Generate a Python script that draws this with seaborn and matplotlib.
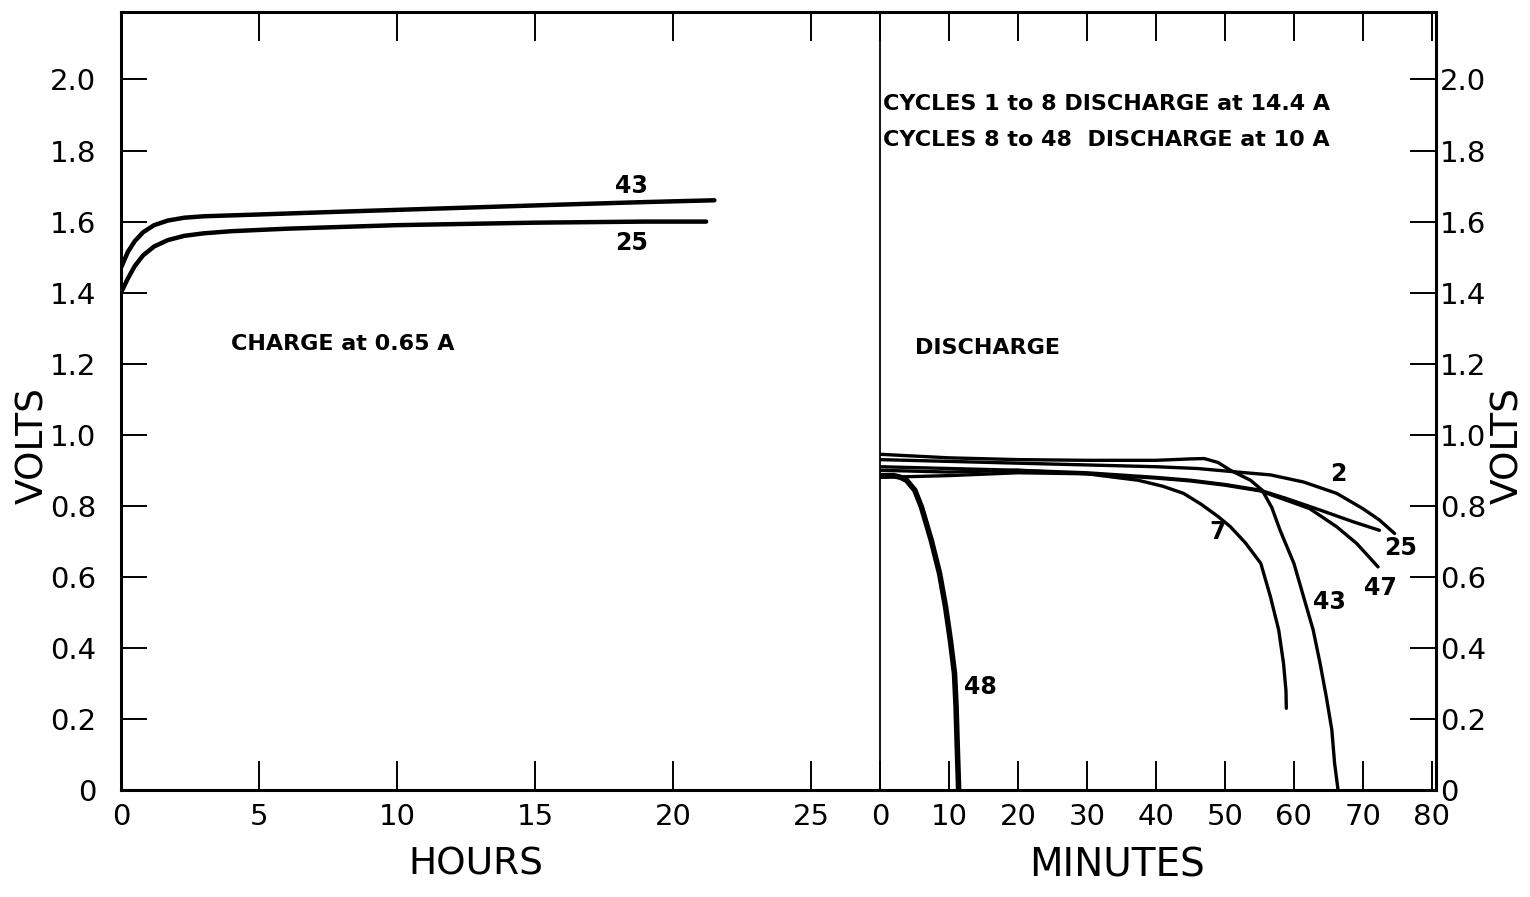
import matplotlib
matplotlib.use("Agg")
import matplotlib.pyplot as plt
import seaborn as sns

# --- charge curves (hours, volts) ---
charge_43_hours = [0, 0.25, 0.5, 0.8, 1.2, 1.7, 2.3, 3, 5, 8, 12, 16, 19, 21.5]
charge_43_volts = [1.47, 1.515, 1.545, 1.57, 1.59, 1.603, 1.611, 1.615, 1.62, 1.628, 1.638, 1.648, 1.655, 1.66]
charge_25_hours = [0, 0.25, 0.5, 0.8, 1.2, 1.7, 2.3, 3, 4, 6, 10, 15, 19, 21.2]
charge_25_volts = [1.40, 1.44, 1.475, 1.505, 1.53, 1.548, 1.56, 1.567, 1.573, 1.58, 1.59, 1.597, 1.60, 1.60]

# --- discharge curves (minutes, volts) ---
dis_2_min = [0, 10, 20, 30, 40, 46, 51.8, 56.6, 61.4, 66.2, 70.0, 72.4, 74.6]
dis_2_volts = [0.93, 0.925, 0.92, 0.915, 0.91, 0.905, 0.895, 0.887, 0.867, 0.835, 0.792, 0.76, 0.722]
dis_7_min = [0, 10, 20, 30, 37.4, 41, 44, 46.5, 49, 50.8, 53.0, 55.2, 56.6, 57.8, 58.5, 58.85, 58.9]
dis_7_volts = [0.91, 0.905, 0.90, 0.89, 0.872, 0.855, 0.835, 0.805, 0.77, 0.741, 0.695, 0.638, 0.544, 0.45, 0.356, 0.28, 0.23]
dis_25_min = [0, 10, 20, 30, 40, 45, 50, 55.1, 59.0, 63.8, 68.6, 72.4]
dis_25_volts = [0.90, 0.895, 0.90, 0.893, 0.88, 0.872, 0.86, 0.844, 0.82, 0.788, 0.755, 0.731]
dis_43_min = [0, 10, 20, 30, 40, 45, 47, 49, 50.8, 53.7, 55.4, 56.8, 58.0, 60.0, 61.4, 62.8, 63.8, 64.7, 65.5, 65.9, 66.4]
dis_43_volts = [0.945, 0.935, 0.93, 0.928, 0.928, 0.932, 0.933, 0.922, 0.90, 0.872, 0.844, 0.795, 0.731, 0.638, 0.544, 0.45, 0.356, 0.262, 0.169, 0.075, 0.0]
dis_47_min = [0, 10, 20, 30, 40, 45, 50, 55.1, 59.0, 62.3, 66.2, 69.1, 72.2]
dis_47_volts = [0.88, 0.885, 0.893, 0.89, 0.878, 0.87, 0.858, 0.842, 0.815, 0.792, 0.741, 0.694, 0.628]
dis_48_min = [0, 2, 3, 3.84, 5.04, 6.0, 7.43, 8.63, 9.5, 10.2, 10.8, 11.03, 11.17, 11.4]
dis_48_volts = [0.885, 0.885, 0.88, 0.872, 0.844, 0.797, 0.703, 0.61, 0.516, 0.422, 0.328, 0.234, 0.141, 0.0]

# tick values and labels
hour_ticks = [0, 5, 10, 15, 20, 25]
minute_ticks = [0, 10, 20, 30, 40, 50, 60, 70, 80]
volt_ticks = [0, 0.2, 0.4, 0.6, 0.8, 1.0, 1.2, 1.4, 1.6, 1.8, 2.0]
volt_labels = ["0", "0.2", "0.4", "0.6", "0.8", "1.0", "1.2", "1.4", "1.6", "1.8", "2.0"]

sns.set_style("ticks")
plt.rcParams["font.family"] = ["DejaVu Sans"]
plt.rcParams.update({
    "text.color": "black", "axes.labelcolor": "black",
    "xtick.color": "black", "ytick.color": "black",
    "axes.edgecolor": "black",
})

fig = plt.figure(figsize=(15.3, 8.97), dpi=100)
L, R, D = 121 / 1530, 1436 / 1530, 880 / 1530
B, T = 1 - 790 / 897, 1 - 12 / 897
ax1 = fig.add_axes([L, B, D - L, T - B])
ax2 = fig.add_axes([D, B, R - D, T - B])
ax2.patch.set_alpha(0)

YMAX = 2.19
frame_lw = 2.2
note = dict(fontsize=16, fontweight="bold", ha="left", va="center")
lab = dict(fontsize=17, fontweight="bold", ha="center", va="center")

# charge panel
for h, v in [(charge_43_hours, charge_43_volts), (charge_25_hours, charge_25_volts)]:
    sns.lineplot(x=h, y=v, ax=ax1, color="black", lw=3.2, sort=False,
                 estimator=None, solid_capstyle="round", solid_joinstyle="round")
ax1.set_xlim(0, 27.5)
ax1.set_ylim(0, YMAX)
ax1.set_xticks(hour_ticks)
ax1.set_xticklabels([str(t) for t in hour_ticks])
ax1.set_yticks(volt_ticks)
ax1.set_yticklabels(volt_labels)
ax1.tick_params(axis="x", direction="in", top=True, bottom=True, length=21,
                width=1.4, labelsize=21, pad=9)
ax1.tick_params(axis="y", direction="in", left=True, right=False, length=19,
                width=1.4, labelsize=21, pad=18)
for s in ["top", "bottom", "left"]:
    ax1.spines[s].set_linewidth(frame_lw)
ax1.spines["right"].set_visible(False)
ax1.set_xlabel("HOURS", fontsize=27)
ax1.xaxis.set_label_coords(0.468, -0.072)
ax1.set_ylabel("VOLTS", fontsize=27)
ax1.yaxis.set_label_coords(-0.092, 0.443)

ax1.text(18.5, 1.70, "43", **lab)
ax1.text(18.5, 1.54, "25", **lab)
ax1.text(4.0, 1.255, "CHARGE at 0.65 A", **note)

# discharge panel
discharge = [
    (dis_2_min, dis_2_volts, 2.4),
    (dis_7_min, dis_7_volts, 2.4),
    (dis_25_min, dis_25_volts, 2.4),
    (dis_43_min, dis_43_volts, 2.4),
    (dis_47_min, dis_47_volts, 2.4),
    (dis_48_min, dis_48_volts, 4.0),
]
for m, v, lw in discharge:
    sns.lineplot(x=m, y=v, ax=ax2, color="black", lw=lw, sort=False,
                 estimator=None, solid_capstyle="round", solid_joinstyle="round")
ax2.set_xlim(0, 80.6)
ax2.set_ylim(0, YMAX)
ax2.set_xticks(minute_ticks)
ax2.set_xticklabels([str(t) for t in minute_ticks])
ax2.set_yticks(volt_ticks)
ax2.set_yticklabels(volt_labels)
ax2.yaxis.tick_right()
ax2.yaxis.set_label_position("right")
ax2.tick_params(axis="x", direction="in", top=True, bottom=True, length=21,
                width=1.4, labelsize=21, pad=9)
ax2.tick_params(axis="y", direction="in", left=False, right=True, length=19,
                width=1.4, labelsize=21, pad=3)
for s in ["top", "bottom", "right"]:
    ax2.spines[s].set_linewidth(frame_lw)
ax2.spines["left"].set_linewidth(1.3)
ax2.set_xlabel("MINUTES", fontsize=28)
ax2.xaxis.set_label_coords(0.426, -0.072)
ax2.set_ylabel("VOLTS", fontsize=27, rotation=90)
ax2.yaxis.set_label_coords(1.097, 0.443)

ax2.text(66.4, 0.89, "2", **lab)
ax2.text(75.4, 0.68, "25", **lab)
ax2.text(72.5, 0.57, "47", **lab)
ax2.text(65.2, 0.53, "43", **lab)
ax2.text(49.0, 0.725, "7", **lab)
ax2.text(14.5, 0.29, "48", **lab)
ax2.text(0.4, 1.93, "CYCLES 1 to 8 DISCHARGE at 14.4 A", **note)
ax2.text(0.4, 1.83, "CYCLES 8 to 48  DISCHARGE at 10 A", **note)
ax2.text(5.1, 1.243, "DISCHARGE", **note)

fig.savefig("out.png", dpi=100, facecolor="white")
